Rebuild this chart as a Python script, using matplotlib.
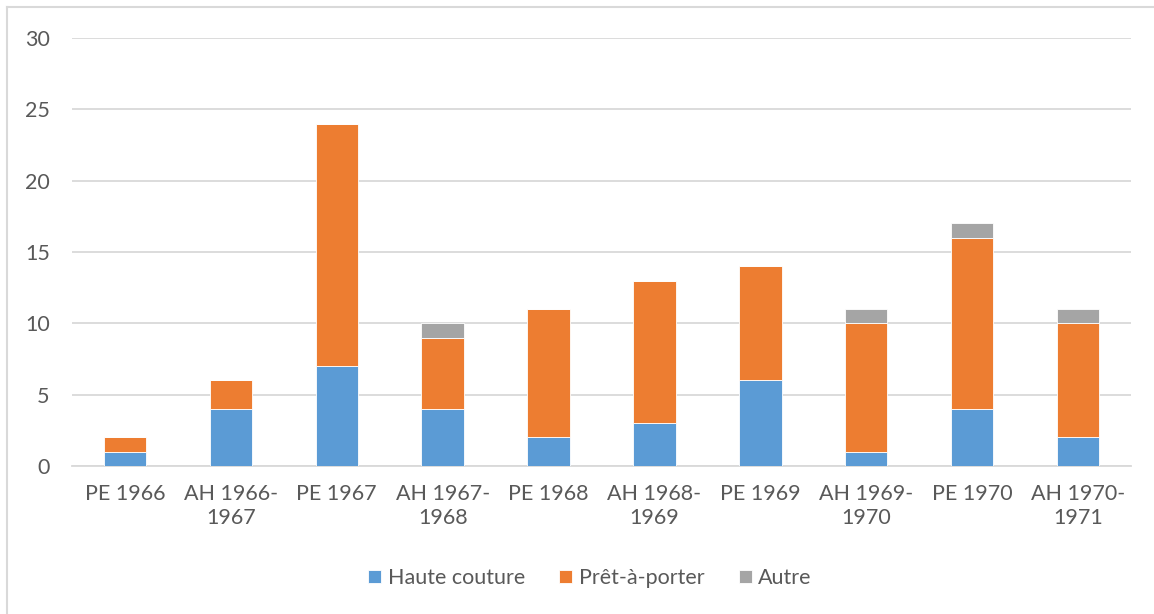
import matplotlib
matplotlib.use("Agg")
import matplotlib.pyplot as plt
import numpy as np

categories = ["PE 1966", "AH 1966-\n1967", "PE 1967", "AH 1967-\n1968", "PE 1968",
              "AH 1968-\n1969", "PE 1969", "AH 1969-\n1970", "PE 1970", "AH 1970-\n1971"]
haute_couture = [1, 4, 7, 4, 2, 3, 6, 1, 4, 2]
pret_a_porter = [1, 2, 17, 5, 9, 10, 8, 9, 12, 8]
autre = [0, 0, 0, 1, 0, 0, 0, 1, 1, 1]

plt.rcParams['font.family'] = ['Lato', 'DejaVu Sans']
text_color = "#595959"
fs = 15.5

fig = plt.figure(figsize=(11.54, 6.14), dpi=100)
ax = fig.add_axes([72 / 1154, 1 - 466 / 614, (1131 - 72) / 1154, (466 - 38) / 614])

x = np.arange(len(categories))
hc = np.array(haute_couture)
pap = np.array(pret_a_porter)
au = np.array(autre)
w = 0.40
ax.bar(x, hc, w, color="#5B9BD5", label="Haute couture", edgecolor="white", linewidth=0.6, zorder=3)
ax.bar(x, pap, w, bottom=hc, color="#ED7D31", label="Prêt-à-porter", edgecolor="white", linewidth=0.6, zorder=3)
ax.bar(x, au, w, bottom=hc + pap, color="#A5A5A5", label="Autre", edgecolor="white", linewidth=0.6, zorder=3)

ax.set_xlim(-0.5, len(categories) - 0.5)
ax.set_ylim(0, 30)
ax.set_yticks(range(0, 31, 5))
ax.set_xticks(x)
ax.set_xticklabels(categories, fontsize=fs, color=text_color, linespacing=1.25)
ax.tick_params(axis="y", labelsize=fs, labelcolor=text_color, length=0, pad=16)
ax.tick_params(axis="x", length=0, pad=13)
ax.grid(axis="y", color="#D9D9D9", linewidth=1.3, zorder=0)
for s in ["top", "right", "left"]:
    ax.spines[s].set_visible(False)
ax.spines["bottom"].set_color("#D9D9D9")
ax.spines["bottom"].set_linewidth(1.3)

leg = fig.legend(loc="center", bbox_to_anchor=(590 / 1154, 1 - 578 / 614), ncol=3, frameon=False,
                 fontsize=fs, handlelength=0.6, handleheight=0.6, handletextpad=0.3, columnspacing=1.6)
for t in leg.get_texts():
    t.set_color(text_color)

# chart area border (top and left edges visible)
fig.add_artist(plt.Line2D([7 / 1154, 1.0], [1 - 7 / 614, 1 - 7 / 614], color="#D9D9D9", linewidth=1.5))
fig.add_artist(plt.Line2D([7 / 1154, 7 / 1154], [0.0, 1 - 7 / 614], color="#D9D9D9", linewidth=1.5))

fig.savefig("out.png", dpi=100)
